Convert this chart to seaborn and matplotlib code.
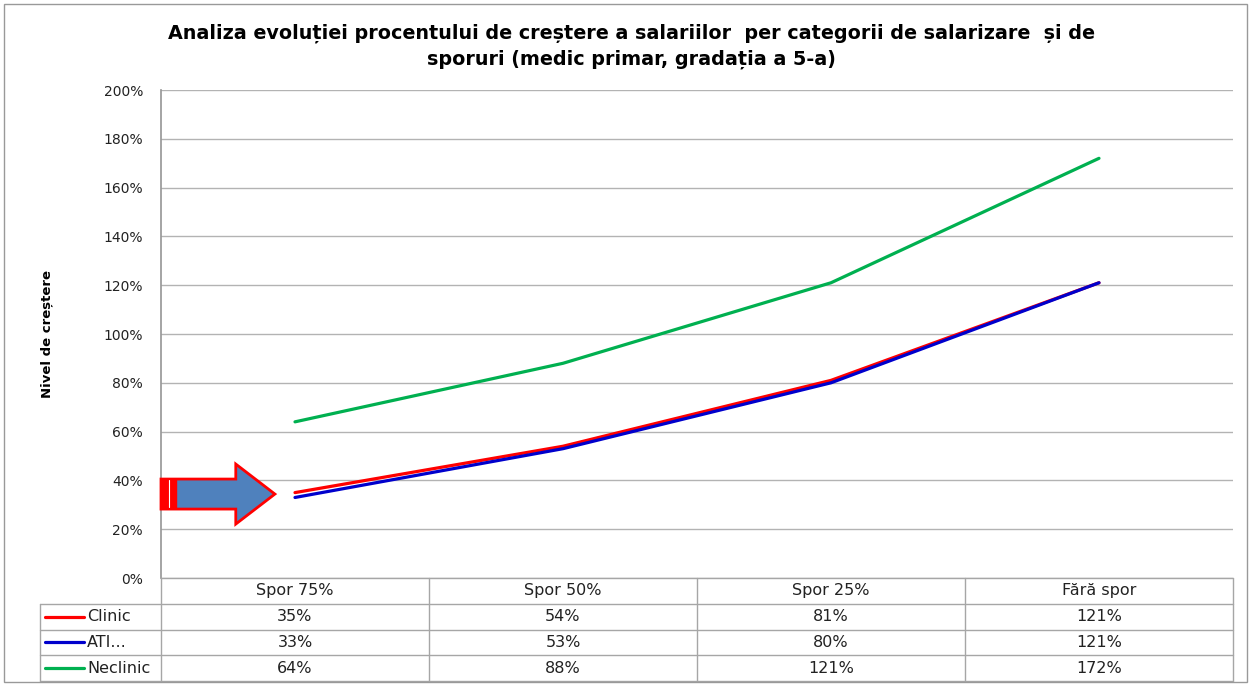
import numpy as np
import pandas as pd
import seaborn as sns
import matplotlib.pyplot as plt
from matplotlib.patches import FancyArrow, Rectangle

categories = ["Spor 75%", "Spor 50%", "Spor 25%", "Fără spor"]
series_names = ["Clinic", "ATI...", "Neclinic"]
clinic = [35, 54, 81, 121]
ati = [33, 53, 80, 121]
neclinic = [64, 88, 121, 172]
colors = ["#ff0000", "#0000cc", "#00b050"]
yticks = [0, 20, 40, 60, 80, 100, 120, 140, 160, 180, 200]

title = ("Analiza evoluției procentului de creștere a salariilor  per categorii de salarizare  și de\n"
         "sporuri (medic primar, gradația a 5-a)")

values = [clinic, ati, neclinic]
df = pd.DataFrame({
    "cat": np.tile(np.arange(len(categories)), len(series_names)),
    "val": np.concatenate(values),
    "serie": np.repeat(series_names, len(categories)),
})

sns.set_theme(style="white")
plt.rcParams["font.family"] = ["DejaVu Sans"]

W, H = 1251, 685
fig = plt.figure(figsize=(W / 100, H / 100), dpi=100)

# main plot area in pixels
x0, x1, ytop, ybot = 161, 1233, 90, 578
ax = fig.add_axes([x0 / W, (H - ybot) / H, (x1 - x0) / W, (ybot - ytop) / H])
sns.lineplot(data=df, x="cat", y="val", hue="serie", palette=colors,
             linewidth=2.3, ax=ax, legend=False)
ax.set_xlim(-0.5, 3.5)
ax.set_ylim(0, 200)
ax.set_yticks(yticks)
ax.set_yticklabels([f"{v}%" for v in yticks], fontsize=10, color="#222222")
ax.tick_params(axis="y", length=0, pad=13)
ax.set_xticks([])
ax.set_xlabel("")
ax.set_ylabel("Nivel de creștere", fontsize=9.5, fontweight="bold", labelpad=36,
              color="black")
ax.grid(axis="y", color="#b3b3b3", linewidth=1)
for s in ["top", "right", "bottom"]:
    ax.spines[s].set_visible(False)
ax.spines["left"].set_color("#999999")

# arrow pointing at first point
ax.add_patch(FancyArrow(-0.5, 34.4, 0.425, 0, width=12.3, head_width=24.6,
                        head_length=0.146, length_includes_head=True,
                        facecolor="#4f81bd", edgecolor="#ff0000", linewidth=2,
                        clip_on=False, zorder=5))
ax.add_patch(Rectangle((-0.5, 28.5), 0.055, 12, facecolor="#ff0000",
                       edgecolor="#ff0000", linewidth=1, clip_on=False, zorder=6))
ax.plot([-0.47, -0.47], [29, 40], color="white", linewidth=0.8, zorder=7, clip_on=False)

fig.text(0.505, 0.933, title, ha="center", va="center", fontsize=13.8,
         fontweight="bold", linespacing=1.45, color="black")

# data table below the chart
tab_bot = 681
tax = fig.add_axes([x0 / W, (H - tab_bot) / H, (x1 - x0) / W, (tab_bot - ybot) / H])
tax.set_xlim(-0.5, 3.5)
tax.set_ylim(4, 0)
tax.axis("off")
lc = "#a6a6a6"
legw = 121 / 268
for r in range(1, 5):
    tax.plot([-0.5 - legw, 3.5], [r, r], color=lc, lw=1, clip_on=False)
tax.plot([-0.5, 3.5], [0, 0], color=lc, lw=1, clip_on=False)
for xv in [-0.5, 0.5, 1.5, 2.5, 3.5]:
    tax.plot([xv, xv], [0, 4], color=lc, lw=1, clip_on=False)
tax.plot([-0.5 - legw] * 2, [1, 4], color=lc, lw=1, clip_on=False)
for i, c in enumerate(categories):
    tax.text(i, 0.5, c, ha="center", va="center", fontsize=11.5, color="#222222")
for j, (name, vals, col) in enumerate(zip(series_names, values, colors)):
    y = j + 1.5
    tax.plot([-0.5 - legw + 0.02, -0.5 - legw + 0.165], [y, y], color=col, lw=2.3,
             clip_on=False)
    tax.text(-0.5 - legw + 0.175, y, name, ha="left", va="center", fontsize=11.5,
             color="#222222")
    for i, v in enumerate(vals):
        tax.text(i, y, f"{v}%", ha="center", va="center", fontsize=11.5, color="#222222")

fig.patches.append(Rectangle((0.003, 0.004), 0.994, 0.99, transform=fig.transFigure,
                             fill=False, edgecolor="#999999", linewidth=1))

fig.savefig("out.png", dpi=100)
